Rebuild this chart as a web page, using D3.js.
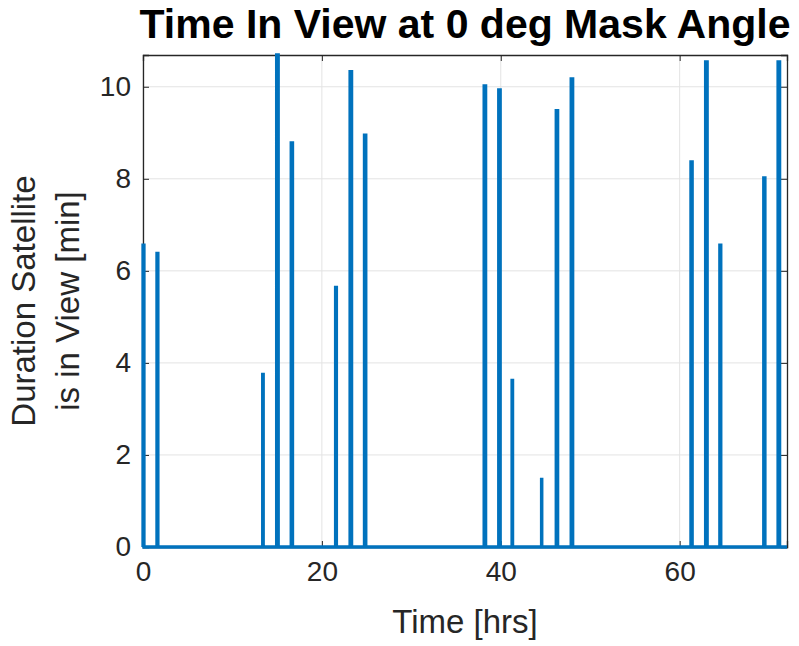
<!DOCTYPE html>
<html>
<head>
<meta charset="utf-8">
<script src="https://cdn.jsdelivr.net/npm/d3@7"></script>
<style>
  body { margin: 0; background: #fff; }
  svg { font-family: "Liberation Sans", Arial, sans-serif; }
</style>
</head>
<body>
<div id="chart"></div>
<script>
// pass start times [hrs] and how long the satellite stays in view [min]
var passTimes = [0.0, 1.56, 13.38, 14.94, 16.57, 21.53, 23.15, 24.76, 38.14, 39.77,
                 41.26, 44.56, 46.2, 47.87, 61.26, 62.9, 64.49, 69.4, 71.0];
var passDurations = [6.56, 6.38, 3.75, 10.69, 8.78, 5.64, 10.33, 8.95, 10.02, 9.93,
                     3.62, 1.47, 9.48, 10.17, 8.37, 10.54, 6.56, 8.02, 10.54];
var xTicks = [0, 20, 40, 60];
var yTicks = [0, 2, 4, 6, 8, 10];
var tEnd = 72;

var W = 799, H = 646;
var margin = {top: 55, right: 12, bottom: 99, left: 143};
var width = W - margin.left - margin.right;
var height = H - margin.top - margin.bottom;

var svg = d3.select("#chart").append("svg")
    .attr("width", W)
    .attr("height", H);

var g = svg.append("g")
    .attr("transform", "translate(" + margin.left + "," + margin.top + ")");

var x = d3.scaleLinear().domain([0, tEnd]).range([0, width]);
var y = d3.scaleLinear().domain([0, d3.max(passDurations)]).range([height, 0]);

// grid
g.append("g").selectAll("line.gx")
    .data(xTicks).enter().append("line")
    .attr("x1", function(d){ return x(d); })
    .attr("x2", function(d){ return x(d); })
    .attr("y1", 0).attr("y2", height)
    .attr("stroke", "#e3e3e3").attr("stroke-width", 1);
g.append("g").selectAll("line.gy")
    .data(yTicks).enter().append("line")
    .attr("y1", function(d){ return y(d); })
    .attr("y2", function(d){ return y(d); })
    .attr("x1", 0).attr("x2", width)
    .attr("stroke", "#e3e3e3").attr("stroke-width", 1);

// build the on/off signal: zero, jump to the duration while in view, back to zero
var pts = [[0, 0]];
passTimes.forEach(function(t, i){
    var v = passDurations[i];
    pts.push([t, 0], [t, v], [t + v / 60, v], [t + v / 60, 0]);
});
pts.push([tEnd, 0]);

var line = d3.line()
    .x(function(d){ return x(d[0]); })
    .y(function(d){ return y(d[1]); });

// axes (MATLAB style box, ticks inward)
var axCol = "#262626";
var xAxis = d3.axisBottom(x).tickValues(xTicks).tickSize(-6).tickPadding(14);
var yAxis = d3.axisLeft(y).tickValues(yTicks).tickSize(-6).tickPadding(12);

var gx = g.append("g")
    .attr("transform", "translate(0," + height + ")")
    .call(xAxis);
var gy = g.append("g").call(yAxis);
g.append("g").call(d3.axisTop(x).tickValues(xTicks).tickSize(-6).tickFormat(""));
g.append("g").attr("transform", "translate(" + width + ",0)")
    .call(d3.axisRight(y).tickValues(yTicks).tickSize(-6).tickFormat(""));

g.selectAll(".domain").attr("stroke", axCol).attr("stroke-width", 1.3);
g.selectAll(".tick line").attr("stroke", axCol).attr("stroke-width", 1);
g.selectAll(".tick text")
    .attr("fill", axCol)
    .style("font-size", "28px")
    .style("font-family", "'Liberation Sans', Arial, sans-serif");
gx.selectAll(".tick text").attr("dy", "0.71em");

g.append("path")
    .datum(pts)
    .attr("d", line)
    .attr("fill", "none")
    .attr("stroke", "#0072BD")
    .attr("stroke-width", 3.3)
    .attr("stroke-linejoin", "miter");

// title and labels
svg.append("text")
    .attr("x", margin.left + width / 2)
    .attr("y", 38)
    .attr("text-anchor", "middle")
    .style("font-size", "41px")
    .style("font-weight", "bold")
    .attr("fill", "#000")
    .text("Time In View at 0 deg Mask Angle");

svg.append("text")
    .attr("x", margin.left + width / 2)
    .attr("y", 633)
    .attr("text-anchor", "middle")
    .style("font-size", "33px")
    .attr("fill", axCol)
    .text("Time [hrs]");

var yl = svg.append("text")
    .attr("transform", "translate(35," + (margin.top + height / 2) + ") rotate(-90)")
    .attr("text-anchor", "middle")
    .style("font-size", "33px")
    .attr("fill", axCol);
yl.append("tspan").attr("x", 0).attr("y", 0).text("Duration Satellite");
yl.append("tspan").attr("x", 0).attr("y", 44).text("is in View [min]");
</script>
</body>
</html>
